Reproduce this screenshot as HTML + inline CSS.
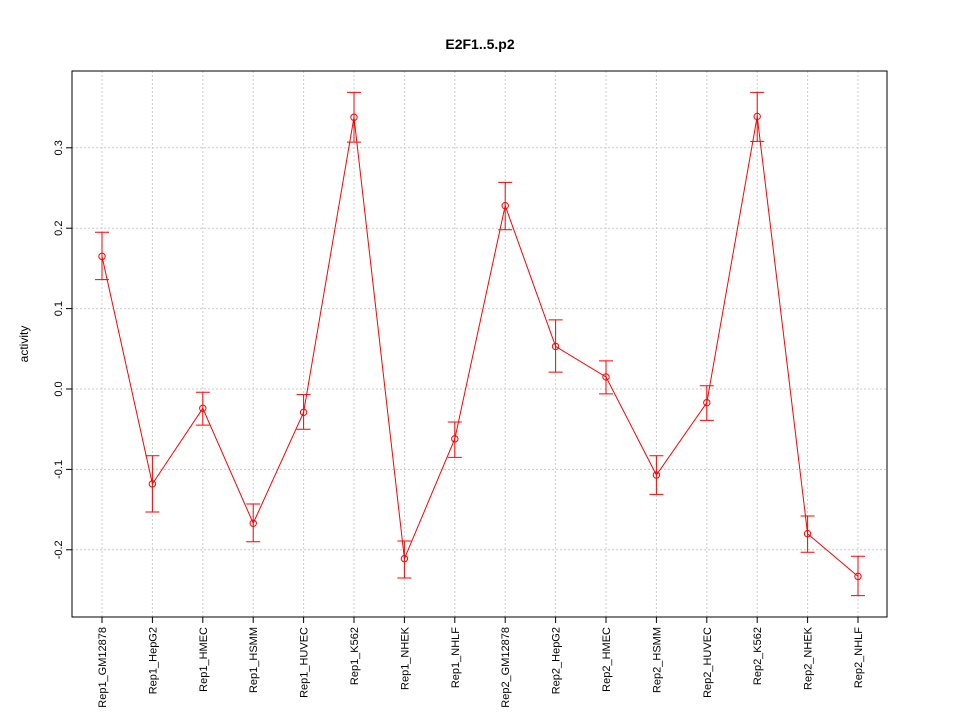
<!DOCTYPE html>
<html><head><meta charset="utf-8"><style>
body{margin:0;background:#fff;}
svg{display:block;font-family:"Liberation Sans",sans-serif;}
</style></head><body>
<svg id="chart" width="960" height="720">
<text x="480" y="49" text-anchor="middle" font-size="14" font-weight="bold">E2F1..5.p2</text>
<text transform="translate(28,344) rotate(-90)" text-anchor="middle" font-size="12">activity</text>
<g id="grid"></g><g id="axes"></g><g id="marks"></g>
</svg>
<script>
const categories=["Rep1_GM12878","Rep1_HepG2","Rep1_HMEC","Rep1_HSMM","Rep1_HUVEC","Rep1_K562","Rep1_NHEK","Rep1_NHLF","Rep2_GM12878","Rep2_HepG2","Rep2_HMEC","Rep2_HSMM","Rep2_HUVEC","Rep2_K562","Rep2_NHEK","Rep2_NHLF"];
const values=[0.165,-0.118,-0.024,-0.167,-0.029,0.338,-0.211,-0.062,0.228,0.053,0.015,-0.107,-0.017,0.339,-0.180,-0.233];
const upper=[0.195,-0.083,-0.004,-0.143,-0.007,0.369,-0.189,-0.041,0.257,0.086,0.035,-0.083,0.004,0.369,-0.158,-0.208];
const lower=[0.136,-0.153,-0.045,-0.190,-0.050,0.307,-0.235,-0.085,0.198,0.021,-0.006,-0.131,-0.039,0.308,-0.203,-0.257];
const yTicks=[-0.2,-0.1,0.0,0.1,0.2,0.3];
const yTickLabels=["-0.2","-0.1","0.0","0.1","0.2","0.3"];
const NS="http://www.w3.org/2000/svg";
const L=72,R=887,T=71,B=617;
const x=i=>102+i*(858-102)/(categories.length-1);
const y=v=>389-v*804;
function mk(parent,tag,attrs){const e=document.createElementNS(NS,tag);for(const k in attrs)e.setAttribute(k,attrs[k]);document.getElementById(parent).appendChild(e);return e;}
categories.forEach((c,i)=>{
 const g=mk('grid','line',{x1:x(i),x2:x(i),y1:T,y2:B,stroke:'#ccc','stroke-dasharray':'2,2'});
 
 
 const t=mk('axes','line',{x1:x(i),x2:x(i),y1:B,y2:B+6,stroke:'#000'});
 
 
 const lb=mk('axes','text',{transform:`translate(${x(i)+4},${B+10}) rotate(-90)`,'text-anchor':'end','font-size':'11'});
 lb.textContent=c;
 
 
});
yTicks.forEach((v,i)=>{
 const g=mk('grid','line',{x1:L,x2:R,y1:y(v),y2:y(v),stroke:'#ccc','stroke-dasharray':'2,2'});
 
 
 const t=mk('axes','line',{x1:L-6,x2:L,y1:y(v),y2:y(v),stroke:'#000'});
 
 
 const lb=mk('axes','text',{transform:`translate(${L-10},${y(v)}) rotate(-90)`,'text-anchor':'middle','font-size':'11'});
 lb.textContent=yTickLabels[i];
 
 
});
const fr=mk('axes','rect',{x:L,y:T,width:R-L,height:B-T,fill:'none',stroke:'#000'});


const ln=mk('marks','polyline',{points:values.map((v,i)=>x(i)+','+y(v)).join(' '),fill:'none',stroke:'#f00'});


values.forEach((v,i)=>{
 const e=mk('marks','path',{d:`M${x(i)},${y(upper[i])}V${y(lower[i])}M${x(i)-7},${y(upper[i])}H${x(i)+7}M${x(i)-7},${y(lower[i])}H${x(i)+7}`,stroke:'#f00',fill:'none'});
 
 
 const p=mk('marks','circle',{cx:x(i),cy:y(v),r:3.2,fill:'none',stroke:'#f00'});
 
 
});
</script>
</body></html>
